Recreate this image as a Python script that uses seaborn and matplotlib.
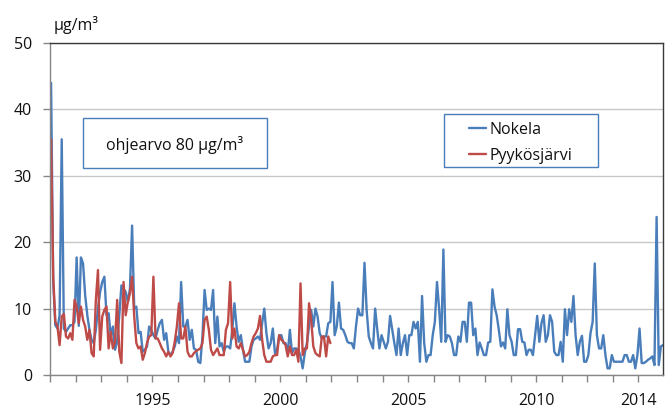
import numpy as np
import pandas as pd
import matplotlib
matplotlib.use("Agg")
import matplotlib.pyplot as plt
from matplotlib.patches import Rectangle
import seaborn as sns

# ---- data (monthly values, Jan 1991 onward) ----
start_year = 1991
nokela = [
    44, 14, 7.5, 7, 9, 35.5, 7, 6.5, 7, 7.5, 7.5, 8,            # 1991
    17.7, 7.4, 17.7, 16.8, 12, 9, 6.8, 5.3, 4.8, 6.8, 10, 12.5,  # 1992
    14, 14.8, 9, 9.3, 5.8, 7.3, 3.8, 5, 9, 13.5, 13, 12.5,       # 1993
    11, 13, 22.5, 10, 10.3, 6.3, 6.5, 3.5, 3.8, 4.3, 7.3, 6.8,   # 1994
    6, 5.5, 6.8, 7.8, 8.3, 5.3, 6.3, 3.5, 3, 3.5, 4.3, 5.8,      # 1995
    4.8, 14, 7.3, 7.3, 8.3, 5.3, 6.8, 4, 3.8, 2, 1.8, 5.8,       # 1996
    12.8, 9.8, 10, 9.8, 12.8, 4.8, 8.8, 4.3, 4.8, 3.5, 4.3, 4.3, # 1997
    4, 6.8, 10.8, 7.3, 5, 6, 3.8, 2, 2, 2, 4.3, 5.3,             # 1998
    5.5, 5.8, 5.3, 7.8, 10, 6.3, 4, 4.8, 7, 3.3, 3.8, 6,         # 1999
    6, 4.8, 4.8, 3.3, 6.8, 3.3, 4, 4, 3.8, 2.8, 1, 3.3,          # 2000
    4.8, 7.3, 9.8, 7.3, 10, 8.8, 6.3, 5.5, 5.8, 5.8, 7.8, 8,     # 2001
    14, 6, 7.3, 10.9, 7, 6.8, 6, 5, 4.8, 4.8, 4, 7.3,            # 2002
    10, 9, 9, 16.9, 9.8, 5.8, 4.8, 4, 10, 6.8, 4, 6,             # 2003
    5, 4, 5, 8.9, 6.8, 4.8, 3, 7, 3, 4.8, 6, 3,                  # 2004
    6, 6, 8, 7, 8, 2, 11.9, 4.8, 2, 3, 3, 6,                     # 2005
    8, 14, 10, 5, 18.9, 5, 6, 5.8, 4.8, 3, 3, 5.8,               # 2006
    5, 8, 8, 5, 10.9, 10.9, 6, 7, 3, 4.9, 4, 3,                  # 2007
    3, 4.9, 5, 12.9, 10.3, 9, 6.8, 4.3, 4.9, 4, 9.9, 6,          # 2008
    5, 3, 3, 6.9, 6.9, 5, 4.9, 3, 3.8, 3.8, 3, 6,                # 2009
    8.9, 5, 7.8, 9, 5, 6, 9, 8, 3.5, 3, 3, 5,                    # 2010
    2, 9.9, 6, 9.9, 8, 11.9, 6, 3, 5, 5.9, 2, 2,                 # 2011
    3, 6.3, 8, 16.8, 6, 4, 4, 6, 3, 1, 1, 3,                     # 2012
    2, 2, 2, 2, 2, 3, 3, 2, 2, 3, 1, 3,                          # 2013
    7, 1.8, 1.8, 2, 2.3, 2.5, 2.8, 1.5, 23.8, 1.5, 4.3, 4.5,     # 2014
]
pyykosjarvi = [
    35.5, 15, 8, 7.3, 4.5, 8.8, 9.2, 5.8, 5.5, 6.3, 5.3, 11.3,     # 1991
    10.3, 7.8, 10.3, 8.3, 7.3, 5.3, 6.8, 3.3, 2.8, 11.3, 15.8, 3.8, # 1992
    8.8, 9.8, 10.3, 4, 6.5, 4, 5, 11.3, 3.5, 1.8, 14, 9,            # 1993
    11, 12.3, 14.8, 8.8, 4.8, 4, 4.3, 2.3, 3.3, 4.8, 5.8, 6,        # 1994
    14.8, 5.5, 5.5, 4.8, 4, 3.5, 2.8, 3.5, 2.8, 3.3, 5, 7.3,        # 1995
    10.8, 5.5, 5.5, 7.3, 3.5, 2.8, 2.8, 3.3, 3.6, 3.8, 4, 4.8,      # 1996
    8.3, 8.8, 6.8, 3.8, 3, 3.5, 4, 3, 3, 3, 6.8, 7.8,               # 1997
    14, 5.5, 7, 4.3, 4, 4.8, 3.8, 2.8, 3, 3.5, 4.8, 5.8,            # 1998
    6.3, 7, 8.9, 5.3, 3, 2, 2, 2, 2.8, 3, 3, 6,                     # 1999
    5.3, 5, 4.5, 2.8, 4.3, 3, 3, 3.8, 2, 13.8, 3, 4,                # 2000
    4, 10.8, 8.3, 4.3, 3.3, 3, 2.8, 5.8, 5.8, 2.8, 5.8, 4.8,        # 2001
]
series_names = ["Nokela", "Pyykösjärvi"]
year_labels = [1995, 2000, 2005, 2010, 2014]
unit_label = "µg/m³"
note_text = "ohjearvo 80 µg/m³"

# ---- build long table (points at mid-month) ----
rows = []
for name, vals in zip(series_names, [nokela, pyykosjarvi]):
    for i, v in enumerate(vals):
        rows.append({"t": start_year + (i + 0.5) / 12.0, "value": v, "station": name})
df = pd.DataFrame(rows)

sns.set_style("white")
plt.rcParams["font.family"] = ["Open Sans", "DejaVu Sans"]

FS = 11.5
blue = "#4A7EBB"
red = "#BE4B48"
txt = "#111111"

fig = plt.figure(figsize=(6.7, 4.08), dpi=100)
ax = fig.add_axes([50 / 670, 1 - 375 / 408, 613 / 670, 332 / 408])

sns.lineplot(data=df, x="t", y="value", hue="station", hue_order=series_names,
             palette=[blue, red], linewidth=1.7, ax=ax, legend=True)

ax.set_xlim(start_year, start_year + (len(nokela) - 0.5) / 12.0)
ax.set_ylim(0, 50)
ax.set_yticks([0, 10, 20, 30, 40, 50])
ax.set_xticks(list(range(1991, 2015)))
ax.set_xticklabels([str(y) if y in year_labels else "" for y in range(1991, 2015)])
ax.set_xlabel("")
ax.set_ylabel("")

ax.yaxis.grid(True, color="#C8C8C8", linewidth=1)
ax.xaxis.grid(False)
ax.set_axisbelow(True)

for s in ["left", "bottom"]:
    ax.spines[s].set_color("#868686")
    ax.spines[s].set_linewidth(1)
for s in ["top", "right"]:
    ax.spines[s].set_color("#3A3A3A")
    ax.spines[s].set_linewidth(1)

ax.tick_params(axis="x", direction="out", length=4.7, width=1, color="#868686",
               pad=8.5, labelsize=FS, labelcolor=txt)
ax.tick_params(axis="y", direction="out", length=5, width=1, color="#868686",
               pad=8, labelsize=FS, labelcolor=txt)
ax.tick_params(bottom=True, left=True)

# unit label
fig.text(54 / 670, 1 - 25 / 408, unit_label, fontsize=FS, color=txt,
         ha="left", va="center")

# note box
fig.patches.append(Rectangle((83 / 670, 1 - 168 / 408), 184 / 670, 50 / 408,
                             transform=fig.transFigure, fill=False,
                             edgecolor=blue, linewidth=1, zorder=5))
fig.text(175 / 670, 1 - 145 / 408, note_text, fontsize=FS, color=txt,
         ha="center", va="center")

# legend
handles, labels = ax.get_legend_handles_labels()
if ax.legend_ is not None:
    ax.legend_.remove()
fig.patches.append(Rectangle((444 / 670, 1 - 167 / 408), 154 / 670, 53 / 408,
                             transform=fig.transFigure, facecolor="white",
                             edgecolor=blue, linewidth=1, zorder=5))
leg = fig.legend(handles, labels, loc="upper left",
                 bbox_to_anchor=(469 / 670, 1 - 122 / 408),
                 frameon=False, fontsize=FS, borderpad=0, borderaxespad=0,
                 handlelength=1.06, handletextpad=0.2, labelspacing=0.6)
for line in leg.get_lines():
    line.set_linewidth(1.7)
for t in leg.get_texts():
    t.set_color(txt)
leg.set_zorder(6)

fig.savefig("out.png", dpi=100, facecolor="white")
